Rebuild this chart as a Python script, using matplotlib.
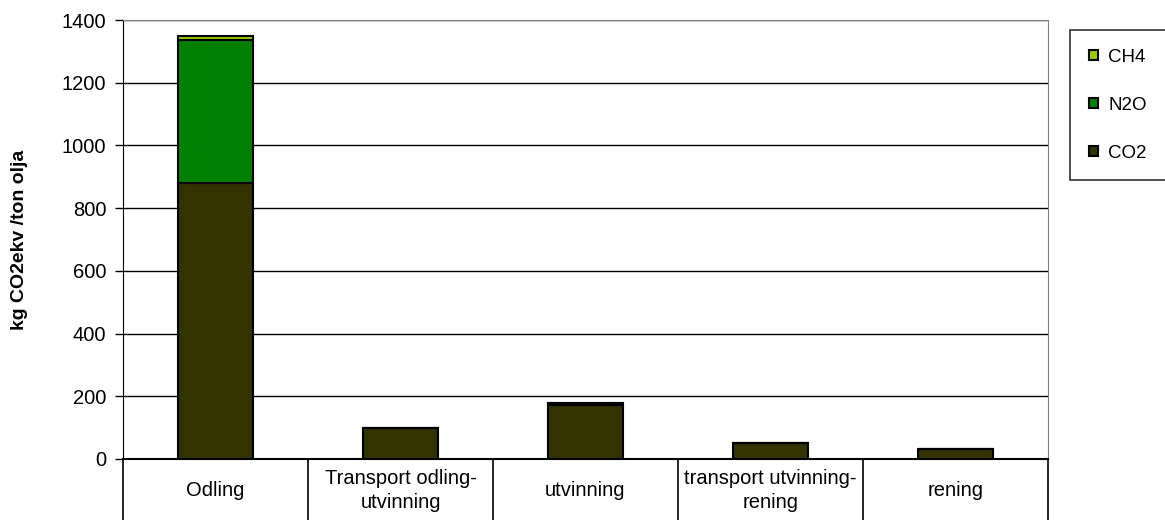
import matplotlib.pyplot as plt
import numpy as np

plt.rcParams['font.family'] = ['Liberation Sans', 'DejaVu Sans']

categories = ['Odling', 'Transport odling-\nutvinning', 'utvinning',
              'transport utvinning-\nrening', 'rening']
co2 = [880, 98, 172, 51, 32]
n2o = [456, 0, 6, 0, 0]
ch4 = [14, 0, 0, 0, 0]

fig = plt.figure(figsize=(11.65, 5.2), dpi=100)
ax = fig.add_axes([123/1165, 61/520, (1048-123)/1165, (459-20)/520])

x = np.arange(len(categories))
w = 0.41
bottom2 = np.array(co2)
bottom3 = bottom2 + np.array(n2o)
ax.bar(x, co2, w, color='#333300', edgecolor='black', linewidth=1.5, label='CO2', zorder=3)
ax.bar(x, n2o, w, bottom=bottom2, color='#008000', edgecolor='black', linewidth=1.5, label='N2O', zorder=3)
ax.bar(x, ch4, w, bottom=bottom3, color='#99CC00', edgecolor='black', linewidth=1.5, label='CH4', zorder=3)

ax.set_xlim(-0.5, len(categories) - 0.5)
ax.set_ylim(0, 1400)
ax.set_yticks(np.arange(0, 1401, 200))
ax.yaxis.grid(True, color='black', linewidth=1)
ax.set_axisbelow(True)
ax.tick_params(axis='y', direction='out', length=6, width=1, pad=6, labelsize=14.5)
ax.set_xticks([])
for s in ['top', 'right']:
    ax.spines[s].set_color('#808080')
ax.spines['left'].set_color('black')
ax.spines['bottom'].set_color('black')
ax.spines['bottom'].set_linewidth(1.5)

# table-style category labels below the axis
trans = ax.get_xaxis_transform()
for b in np.arange(-0.5, len(categories), 1.0):
    ax.plot([b, b], [0, -0.15], color='black', linewidth=1.2, transform=trans, clip_on=False)
for i, c in enumerate(categories):
    ax.text(i, -0.072, c, ha='center', va='center', fontsize=14.5,
            linespacing=1.3, transform=trans)

ax.set_ylabel('kg CO2ekv /ton olja', fontsize=14, fontweight='bold')
ax.yaxis.set_label_coords(-0.1025, 0.5)

handles, labels = ax.get_legend_handles_labels()
leg = fig.legend(handles[::-1], labels[::-1], loc='upper left',
                 bbox_to_anchor=(1070/1165, 1 - 30/520), frameon=True,
                 fancybox=False, edgecolor='black', fontsize=13.5,
                 handlelength=0.5, handleheight=0.5, handletextpad=0.55,
                 labelspacing=1.65, borderpad=1.0, borderaxespad=0)
leg.get_frame().set_linewidth(1.2)

fig.savefig('out.png', dpi=100)
